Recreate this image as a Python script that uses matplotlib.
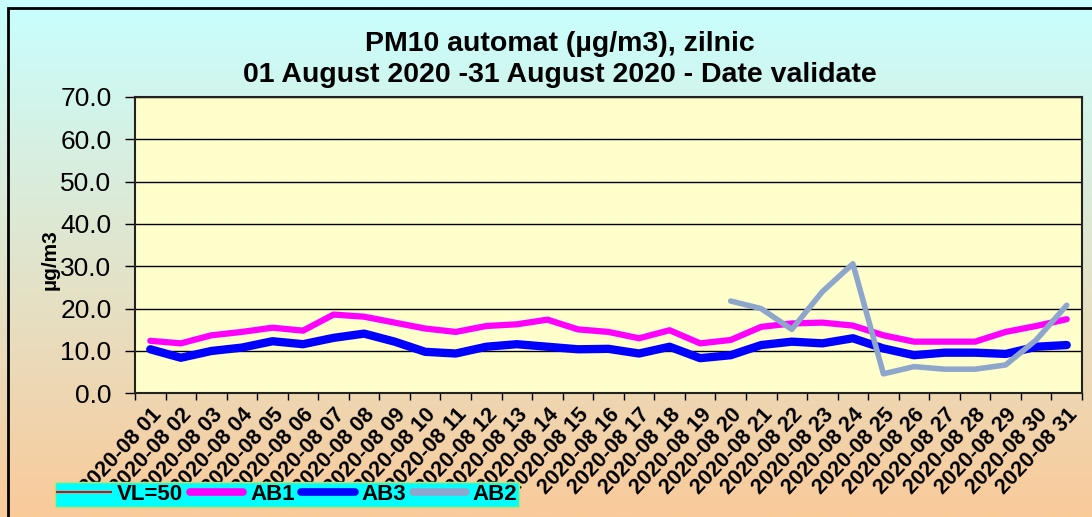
import matplotlib
matplotlib.use("Agg")
import matplotlib.pyplot as plt
import numpy as np
from matplotlib.lines import Line2D
from matplotlib.patches import Rectangle

# Date
zile = ["2020-08 %02d" % d for d in range(1, 32)]
ab1 = [12.4, 11.8, 13.7, 14.5, 15.5, 14.8, 18.6, 18.1, 16.7, 15.3, 14.5, 15.9, 16.3,
       17.4, 15.1, 14.5, 13.0, 14.9, 11.8, 12.6, 15.7, 16.5, 16.7, 16.0, 13.7, 12.2,
       12.2, 12.2, 14.5, 15.9, 17.5]
ab3 = [10.4, 8.4, 10.0, 10.8, 12.3, 11.6, 13.1, 14.1, 12.2, 9.8, 9.4, 11.0, 11.6,
       11.0, 10.4, 10.5, 9.4, 11.0, 8.3, 9.0, 11.4, 12.2, 11.8, 13.0, 10.6, 9.0,
       9.6, 9.6, 9.3, 11.0, 11.4]
ab2 = [None] * 19 + [21.8, 20.0, 15.1, 24.0, 30.6, 4.6, 6.3, 5.7, 5.7, 6.7, 12.6, 20.8]
yticks = [0, 10, 20, 30, 40, 50, 60, 70]

plt.rcParams['font.family'] = ['Liberation Sans', 'DejaVu Sans']

fig = plt.figure(figsize=(10.92, 5.17), dpi=100)

# fundal in degrade (cyan -> piersica)
bg = fig.add_axes([0, 0, 1, 1], zorder=-10)
sus = np.array([200, 255, 255]) / 255
jos = np.array([250, 202, 154]) / 255
t = np.linspace(0, 1, 256)[:, None]
grad = (sus * (1 - t) + jos * t)[:, None, :]
bg.imshow(grad, aspect='auto', extent=[0, 1, 0, 1])
bg.set_axis_off()
fig.patches.append(Rectangle((8 / 1092, -0.1), 1.2, (517 - 8) / 517 + 0.1,
                             transform=fig.transFigure, fill=False,
                             edgecolor='black', lw=2))

ax = fig.add_axes([135 / 1092, (517 - 393.3) / 517, 947 / 1092, 296.3 / 517])
ax.set_facecolor('#FFFFCC')

x = np.arange(len(zile))
ab2_arr = np.array([np.nan if v is None else v for v in ab2])
ax.plot(x, ab1, color='#FF00FF', lw=4.5, solid_joinstyle='round', solid_capstyle='round', zorder=3)
ax.plot(x, ab3, color='#0000FF', lw=6, solid_joinstyle='round', solid_capstyle='round', zorder=4)
ax.plot(x, ab2_arr, color='#8FA6CC', lw=4, solid_joinstyle='round', solid_capstyle='round', zorder=5)

ax.set_xlim(-0.5, len(zile) - 0.5)
ax.set_ylim(0, 70)
ax.set_yticks(yticks)
ax.set_yticklabels(["%.1f" % v for v in yticks], fontsize=19)
ax.yaxis.grid(True, color='black', lw=1)
ax.set_axisbelow(True)
ax.tick_params(axis='y', length=7, width=1, pad=10)

ax.set_xticks(np.arange(-0.5, len(zile), 1))
ax.set_xticklabels([])
ax.tick_params(axis='x', which='major', length=5, width=1)
ax.set_xticks(x, minor=True)
ax.set_xticklabels(zile, minor=True, rotation=47, ha='right', va='top',
                   rotation_mode='anchor', fontsize=15.5, fontweight='bold')
ax.tick_params(axis='x', which='minor', length=0, pad=8)

for s in ax.spines.values():
    s.set_linewidth(1.5)
    s.set_color('#222222')

fig.text(50 / 1092, 1 - 260 / 517, "µg/m3", rotation=90, ha='center', va='center',
         fontsize=15, fontweight='bold')

fig.text(0.513, 0.914, "PM10 automat (µg/m3), zilnic", ha='center', va='center',
         fontsize=20.5, fontweight='bold')
fig.text(0.513, 0.854, "01 August 2020 -31 August 2020 - Date validate", ha='center',
         va='center', fontsize=20.5, fontweight='bold')

handles = [Line2D([], [], color='#FF0000', lw=1.5),
           Line2D([], [], color='#FF00FF', lw=5.5, solid_capstyle='round'),
           Line2D([], [], color='#0000FF', lw=5.5, solid_capstyle='round'),
           Line2D([], [], color='#8FA6CC', lw=5.5, solid_capstyle='round')]
leg = fig.legend(handles, ["VL=50", "AB1", "AB3", "AB2"], ncol=4, loc='lower left',
                 bbox_to_anchor=(55 / 1092, 10 / 517), borderaxespad=0,
                 frameon=True, fancybox=False, facecolor='#00FFFF', edgecolor='#CCDD66',
                 framealpha=1, prop={'weight': 'bold', 'size': 16},
                 handlelength=2.4, handletextpad=0.3, columnspacing=0.3,
                 borderpad=0.1)
leg.get_frame().set_linewidth(1)

fig.savefig("out.png", dpi=100)
